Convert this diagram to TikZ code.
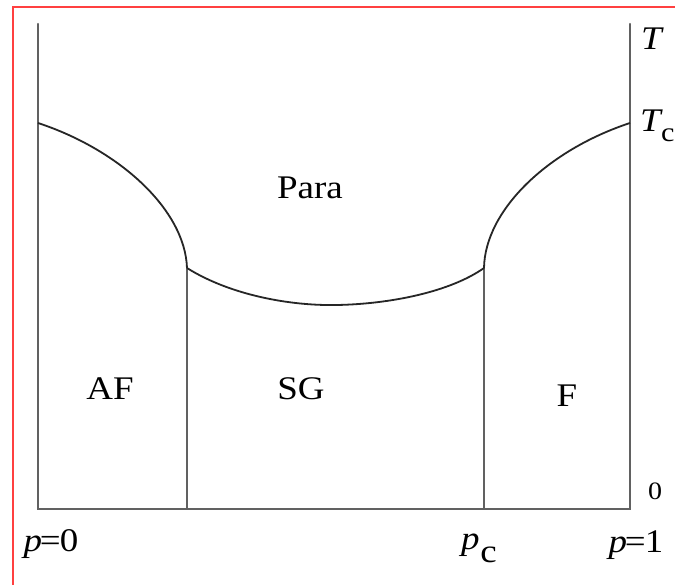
\documentclass[tikz,border=0pt]{standalone}
\usepackage{graphicx}
\usepackage{fontspec}
\setmainfont{Liberation Serif}
\newcommand\hsc[1]{\scalebox{1.12}[1]{#1}}
\begin{document}
\begin{tikzpicture}[x=1pt,y=-1pt,
  axis/.style={draw=black!62,line width=2.2pt},
  phase/.style={draw=black!85,line width=1.8pt},
  lbl/.style={inner sep=0pt,font=\fontsize{33}{33}\selectfont},
  sml/.style={inner sep=0pt,font=\fontsize{25}{25}\selectfont}]
\useasboundingbox (0,0) rectangle (675,585);
\fill[white] (0,0) rectangle (675,585);
\draw[red!75,line width=2pt] (12.5,586) -- (12.5,7.5) -- (676,7.5);
% coordinates
\coordinate (LT) at (38,24);
\coordinate (LB) at (38,509);
\coordinate (RT) at (630,24);
\coordinate (RB) at (630,509);
\coordinate (L0) at (38,123);
\coordinate (R0) at (630,123);
\coordinate (A) at (187,268);
\coordinate (AB) at (187,509);
\coordinate (B) at (484,268);
\coordinate (BB) at (484,509);
\coordinate (M) at (337,305);
% axes
\draw[axis,line cap=round] (LT) -- (LB) -- (RB) -- (RT);
\draw[axis] (A) -- (AB);
\draw[axis] (B) -- (BB);
% phase boundaries
\draw[phase] (L0) .. controls (120,150) and (185,210) .. (A);
\draw[phase] (A) .. controls (230,295) and (290,306) .. (M)
             .. controls (390,304) and (450,292) .. (B);
\draw[phase] (B) .. controls (485,210) and (548,150) .. (R0);
% labels
\node[lbl] (para) at (310,188) {\hsc{Para}};
\node[lbl] (af) at (110,389) {\hsc{AF}};
\node[lbl] (sg) at (301,389) {\hsc{SG}};
\node[lbl] (f) at (567,396) {\hsc{F}};
\node[lbl,anchor=base west] (t) at (641,50) {\hsc{\itshape T}};
\node[lbl,anchor=base west] (tc) at (640,132) {\hsc{\itshape T\kern0.01em\raisebox{-0.3em}{\fontsize{27}{27}\selectfont\upshape c}}};
\node[sml] (zero) at (655,491) {\hsc{0}};
\node[lbl,anchor=base] (p0) at (51,551) {\hsc{\itshape p\kern-0.06em\upshape=\kern-0.02em0}};
\node[lbl,anchor=base west] (pc) at (461,549) {\hsc{\itshape p\kern0.02em\raisebox{-0.42em}{\upshape c}}};
\node[lbl,anchor=base] (p1) at (636,552) {\hsc{\itshape p\kern-0.06em\upshape=\kern-0.02em1}};
\end{tikzpicture}
\end{document}
